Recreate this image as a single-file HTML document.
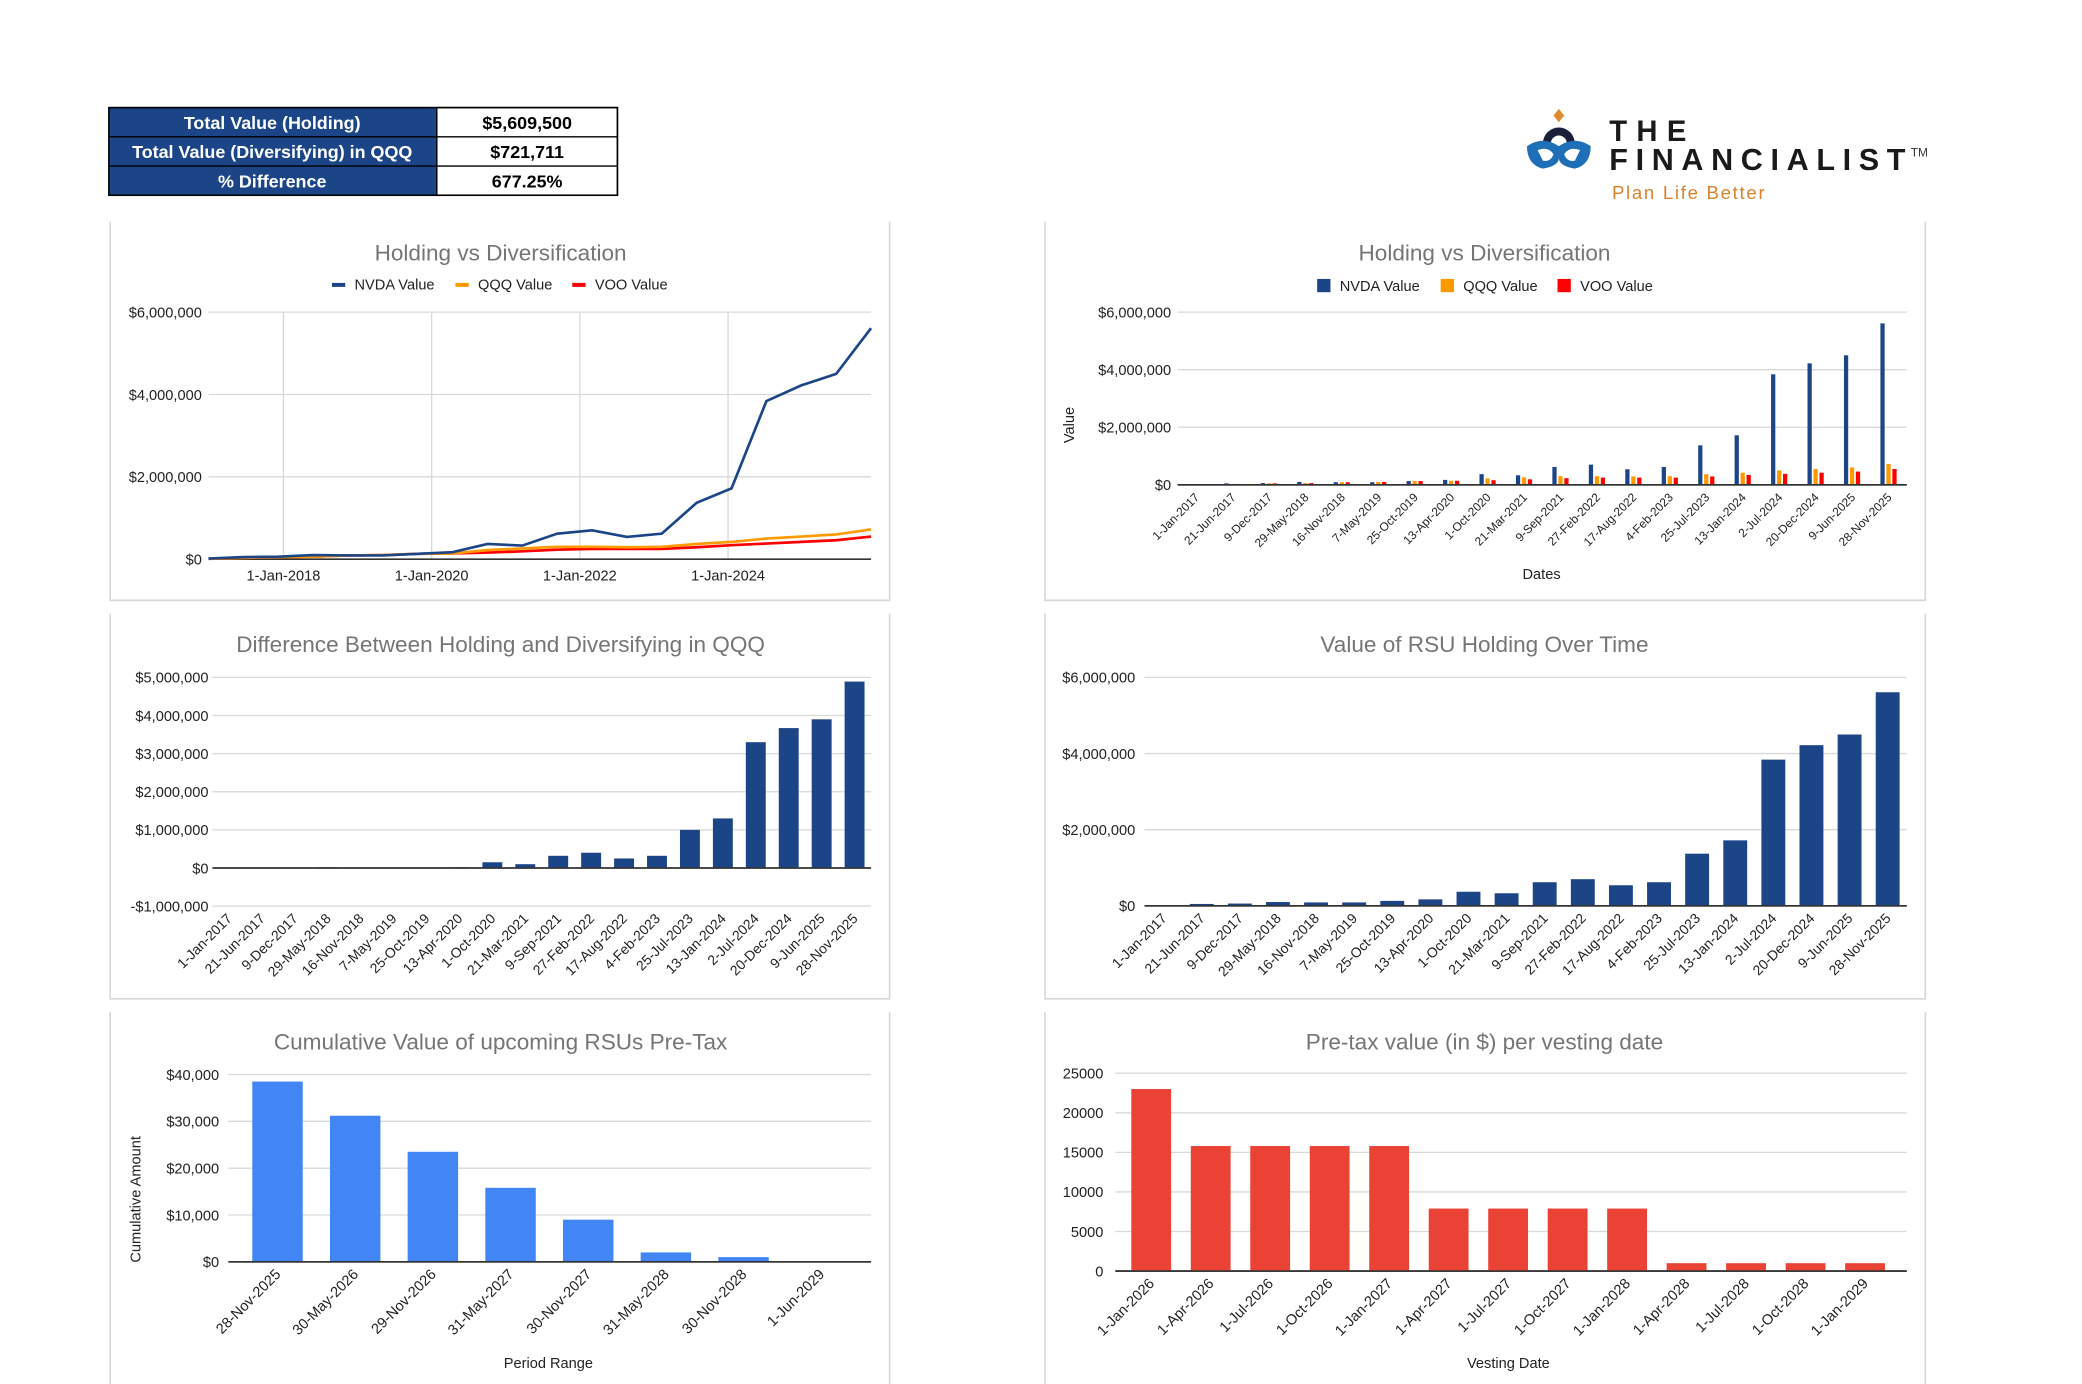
<!DOCTYPE html>
<html><head><meta charset="utf-8"><style>
html,body{margin:0;padding:0;background:#fff;}
svg{display:block;font-family:"Liberation Sans",Arial,sans-serif;}
</style></head><body>
<svg id="s" width="2082" height="1384" viewBox="0 0 1568 1042" preserveAspectRatio="none" xmlns="http://www.w3.org/2000/svg">
<g>
<rect x="82" y="81" width="247" height="66" fill="#1c4587"/>
<rect x="329" y="81" width="136" height="66" fill="#fff" stroke="#000" stroke-width="1"/>
<rect x="82" y="81" width="383" height="66" fill="none" stroke="#000" stroke-width="1.2"/>
<line x1="82" y1="103" x2="465" y2="103" stroke="#000"/>
<line x1="82" y1="125" x2="465" y2="125" stroke="#000"/>
<g font-weight="bold" font-size="13.5" text-anchor="middle">
<text x="205" y="97" fill="#fff">Total Value (Holding)</text>
<text x="205" y="119" fill="#fff">Total Value (Diversifying) in QQQ</text>
<text x="205" y="141" fill="#fff">% Difference</text>
<text x="397" y="97" fill="#000">$5,609,500</text>
<text x="397" y="119" fill="#000">$721,711</text>
<text x="397" y="141" fill="#000">677.25%</text>
</g></g>
<g>
<path d="M1174 82 l4 5 -4 5 -4 -5z" fill="#e08a2e"/>
<path d="M1162 108 a12 12 0 0 1 24 0 l-6 0 a6 6 0 0 0 -12 0z" fill="#1a1f3a"/>
<path d="M1150 110 q12 -8 24 0 q12 -8 24 0 q0 14 -12 17 q-12 -2 -12 -8 q0 6 -12 8 q-12 -3 -12 -17z" fill="#1e6fb8"/>
<path d="M1158 113 q8 -3 12 3 q-2 6 -8 5z M1190 113 q-8 -3 -12 3 q2 6 8 5z" fill="#fff"/>
<text x="1212" y="106" font-size="22" font-weight="bold" fill="#1a1a1a" textLength="58" lengthAdjust="spacing">THE</text>
<text x="1212" y="128" font-size="23" font-weight="bold" fill="#1a1a1a" textLength="223" lengthAdjust="spacing">FINANCIALIST</text>
<text x="1439" y="118" font-size="9" fill="#333">TM</text>
<text x="1214" y="150" font-size="14" fill="#d9822b" textLength="115" lengthAdjust="spacing">Plan Life Better</text>
</g>
<g id="panels"></g>
</svg>
<script>
// ---- data ----
const dates = ["1-Jan-2017","21-Jun-2017","9-Dec-2017","29-May-2018","16-Nov-2018","7-May-2019","25-Oct-2019","13-Apr-2020","1-Oct-2020","21-Mar-2021","9-Sep-2021","27-Feb-2022","17-Aug-2022","4-Feb-2023","25-Jul-2023","13-Jan-2024","2-Jul-2024","20-Dec-2024","9-Jun-2025","28-Nov-2025"];
const nvdaValues = [15000,50000,60000,100000,90000,90000,130000,170000,370000,330000,620000,700000,540000,620000,1370000,1720000,3840000,4220000,4500000,5609500];
const qqqValues = [10000,30000,50000,60000,90000,100000,130000,140000,220000,260000,300000,300000,290000,300000,370000,420000,500000,550000,600000,721711];
const vooValues = [10000,30000,50000,60000,90000,100000,130000,140000,160000,190000,230000,250000,250000,250000,290000,340000,380000,420000,460000,550000];
const diffValues = [5000,10000,10000,20000,10000,-5000,0,20000,150000,100000,320000,400000,250000,320000,1000000,1300000,3300000,3670000,3900000,4890000];
const periods = ["28-Nov-2025","30-May-2026","29-Nov-2026","31-May-2027","30-Nov-2027","31-May-2028","30-Nov-2028","1-Jun-2029"];
const cumValues = [38500,31200,23500,15800,9000,2000,1000,0];
const vestDates = ["1-Jan-2026","1-Apr-2026","1-Jul-2026","1-Oct-2026","1-Jan-2027","1-Apr-2027","1-Jul-2027","1-Oct-2027","1-Jan-2028","1-Apr-2028","1-Jul-2028","1-Oct-2028","1-Jan-2029"];
const vestValues = [23000,15800,15800,15800,15800,7900,7900,7900,7900,1000,1000,1000,1000];
const lineXTicks = ["1-Jan-2018","1-Jan-2020","1-Jan-2022","1-Jan-2024"];
const lineXTickIdx = [2.15,6.4,10.65,14.9];

const NS="http://www.w3.org/2000/svg";
const root=document.getElementById('panels');
function el(tag,attrs,parent,txt){const e=document.createElementNS(NS,tag);for(const k in attrs)e.setAttribute(k,attrs[k]);if(txt!==undefined)e.textContent=txt;(parent||root).appendChild(e);return e;}
const money=v=>(v<0?"-$":"$")+Math.abs(v).toLocaleString('en-US');
const NAVY="#1c4587",ORANGE="#ff9900",RED="#ff0000",GRID="#d9d9d9",TXT="#222";

function panel(name,x,y,w,h){
  const g=el('g',{});
  
  
  el('path',{d:`M${x} ${y} V${y+h} H${x+w} V${y}`,fill:'none',stroke:'#d6d6d6','stroke-width':1.2},g);
  return g;
}
function title(g,x,y,t){const e=el('text',{x:x,y:y,'font-size':17,fill:'#757575','text-anchor':'middle'},g,t);}
function yAxis(g,x0,x1,yf,ticks,fmt,lx){
  ticks.forEach(v=>{
    const y=yf(v);
    el('line',{x1:x0,x2:x1,y1:y,y2:y,stroke:v===0?'#333':GRID,'stroke-width':v===0?1.2:1},g);
    const t=el('text',{x:lx,y:y+4,'font-size':11,fill:TXT,'text-anchor':'end'},g,fmt(v));
    
    
  });
}
function xLabels(g,cats,xf,y0,fs){
  cats.forEach((c,i)=>{
    const x=xf(i);
    const t=el('text',{x:x+3,y:y0+10,'font-size':fs,fill:TXT,'text-anchor':'end',transform:`rotate(-45 ${x+3} ${y0+10})`},g,c);
    
    
  });
}
function legend(g,items,y,square){
  items.forEach(([x,c,l])=>{
    if(square)el('rect',{x:x,y:y-9,width:10,height:10,fill:c},g);
    else el('rect',{x:x,y:y-5,width:10,height:3,fill:c},g);
    const t=el('text',{x:x+17,y:y,'font-size':11,fill:TXT},g,l);
    
    
  });
}

// Chart 1: line
(function(){
  const g=panel('holding-vs-diversification-line-chart',83,167,587,285);
  title(g,377,196,"Holding vs Diversification");
  legend(g,[[250,NAVY,"NVDA Value"],[343,ORANGE,"QQQ Value"],[431,RED,"VOO Value"]],218,false);
  const X0=157,X1=656,Y0=421,Ytop=235;
  const yf=v=>Y0-(v/6e6)*(Y0-Ytop);
  const xf=i=>X0+i*(X1-X0)/(dates.length-1);
  lineXTickIdx.forEach((idx,k)=>{const x=xf(idx);el('line',{x1:x,x2:x,y1:Ytop,y2:Y0,stroke:GRID},g);
    const t=el('text',{x:x,y:Y0+16,'font-size':11,fill:TXT,'text-anchor':'middle'},g,lineXTicks[k]);});
  yAxis(g,X0,X1,yf,[0,2e6,4e6,6e6],money,152);
  [[vooValues,RED],[qqqValues,ORANGE],[nvdaValues,NAVY]].forEach(([arr,c])=>{
    const p=el('polyline',{points:arr.map((v,i)=>xf(i)+','+yf(v)).join(' '),fill:'none',stroke:c,'stroke-width':2},g);
    
    
  });
})();

// Chart 2: grouped bars
(function(){
  const g=panel('holding-vs-diversification-bar-chart',787,167,663,285);
  title(g,1118,196,"Holding vs Diversification");
  legend(g,[[992,NAVY,"NVDA Value"],[1085,ORANGE,"QQQ Value"],[1173,RED,"VOO Value"]],219,true);
  const X0=887,X1=1436,Y0=365,Ytop=235;
  const yf=v=>Y0-(v/6e6)*(Y0-Ytop);
  const step=(X1-X0)/dates.length;
  const xf=i=>X0+step*(i+0.5);
  yAxis(g,X0,X1,yf,[0,2e6,4e6,6e6],money,882);
  [[nvdaValues,NAVY,-4.5],[qqqValues,ORANGE,0],[vooValues,RED,4.5]].forEach(([arr,c,off])=>{
    arr.forEach((v,i)=>{const r=el('rect',{x:xf(i)+off-1.6,y:yf(v),width:3.2,height:Y0-yf(v),fill:c},g);
      });
  });
  el('line',{x1:X0,x2:X1,y1:Y0,y2:Y0,stroke:'#333','stroke-width':1.2},g);
  xLabels(g,dates,xf,Y0,9);
  el('text',{x:809,y:320,'font-size':11,fill:TXT,'text-anchor':'middle',transform:'rotate(-90 809 320)'},g,"Value");
  el('text',{x:1161,y:436,'font-size':11,fill:TXT,'text-anchor':'middle'},g,"Dates");
})();

// Chart 3: difference
(function(){
  const g=panel('difference-holding-diversifying-chart',83,462,587,290);
  title(g,377,491,"Difference Between Holding and Diversifying in QQQ");
  const X0=160,X1=656,Y0=653.5,per=28.7;
  const yf=v=>Y0-(v/1e6)*per;
  const step=(X1-X0)/dates.length;
  const xf=i=>X0+step*(i+0.5);
  yAxis(g,X0,X1,yf,[-1e6,0,1e6,2e6,3e6,4e6,5e6],money,157);
  diffValues.forEach((v,i)=>{const y=Math.min(yf(v),Y0),h=Math.abs(yf(v)-Y0);
    const r=el('rect',{x:xf(i)-7.5,y:y,width:15,height:h,fill:NAVY},g);});
  el('line',{x1:X0,x2:X1,y1:Y0,y2:Y0,stroke:'#333','stroke-width':1.2},g);
  xLabels(g,dates,xf,yf(-1e6),10.5);
})();

// Chart 4: RSU holding
(function(){
  const g=panel('rsu-holding-value-chart',787,462,663,290);
  title(g,1118,491,"Value of RSU Holding Over Time");
  const X0=862,X1=1436,Y0=682,Ytop=510;
  const yf=v=>Y0-(v/6e6)*(Y0-Ytop);
  const step=(X1-X0)/dates.length;
  const xf=i=>X0+step*(i+0.5);
  yAxis(g,X0,X1,yf,[0,2e6,4e6,6e6],money,855);
  nvdaValues.forEach((v,i)=>{const r=el('rect',{x:xf(i)-9,y:yf(v),width:18,height:Y0-yf(v),fill:NAVY},g);
    });
  el('line',{x1:X0,x2:X1,y1:Y0,y2:Y0,stroke:'#333','stroke-width':1.2},g);
  xLabels(g,dates,xf,Y0,10.5);
})();

// Chart 5: cumulative
(function(){
  const g=panel('cumulative-rsu-value-chart',83,762,587,290);
  title(g,377,790,"Cumulative Value of upcoming RSUs Pre-Tax");
  const X0=172,X1=656,Y0=950,Ytop=809;
  const yf=v=>Y0-(v/40000)*(Y0-Ytop);
  const xf=i=>209+i*58.5;
  yAxis(g,X0,X1,yf,[0,10000,20000,30000,40000],money,165);
  cumValues.forEach((v,i)=>{const r=el('rect',{x:xf(i)-19,y:yf(v),width:38,height:Y0-yf(v),fill:'#4285f4'},g);
    });
  el('line',{x1:X0,x2:X1,y1:Y0,y2:Y0,stroke:'#333','stroke-width':1.2},g);
  xLabels(g,periods,xf,Y0,11);
  el('text',{x:106,y:903,'font-size':11,fill:TXT,'text-anchor':'middle',transform:'rotate(-90 106 903)'},g,"Cumulative Amount");
  el('text',{x:413,y:1030,'font-size':11,fill:TXT,'text-anchor':'middle'},g,"Period Range");
})();

// Chart 6: vesting
(function(){
  const g=panel('pretax-value-per-vesting-chart',787,762,663,290);
  title(g,1118,790,"Pre-tax value (in $) per vesting date");
  const X0=840,X1=1436,Y0=957,Ytop=808;
  const yf=v=>Y0-(v/25000)*(Y0-Ytop);
  const xf=i=>867+i*44.8;
  yAxis(g,X0,X1,yf,[0,5000,10000,15000,20000,25000],v=>String(v),831);
  vestValues.forEach((v,i)=>{const r=el('rect',{x:xf(i)-15,y:yf(v),width:30,height:Y0-yf(v),fill:'#ea4335'},g);
    });
  el('line',{x1:X0,x2:X1,y1:Y0,y2:Y0,stroke:'#333','stroke-width':1.2},g);
  xLabels(g,vestDates,xf,Y0,11);
  el('text',{x:1136,y:1030,'font-size':11,fill:TXT,'text-anchor':'middle'},g,"Vesting Date");
})();
</script>
</body></html>
